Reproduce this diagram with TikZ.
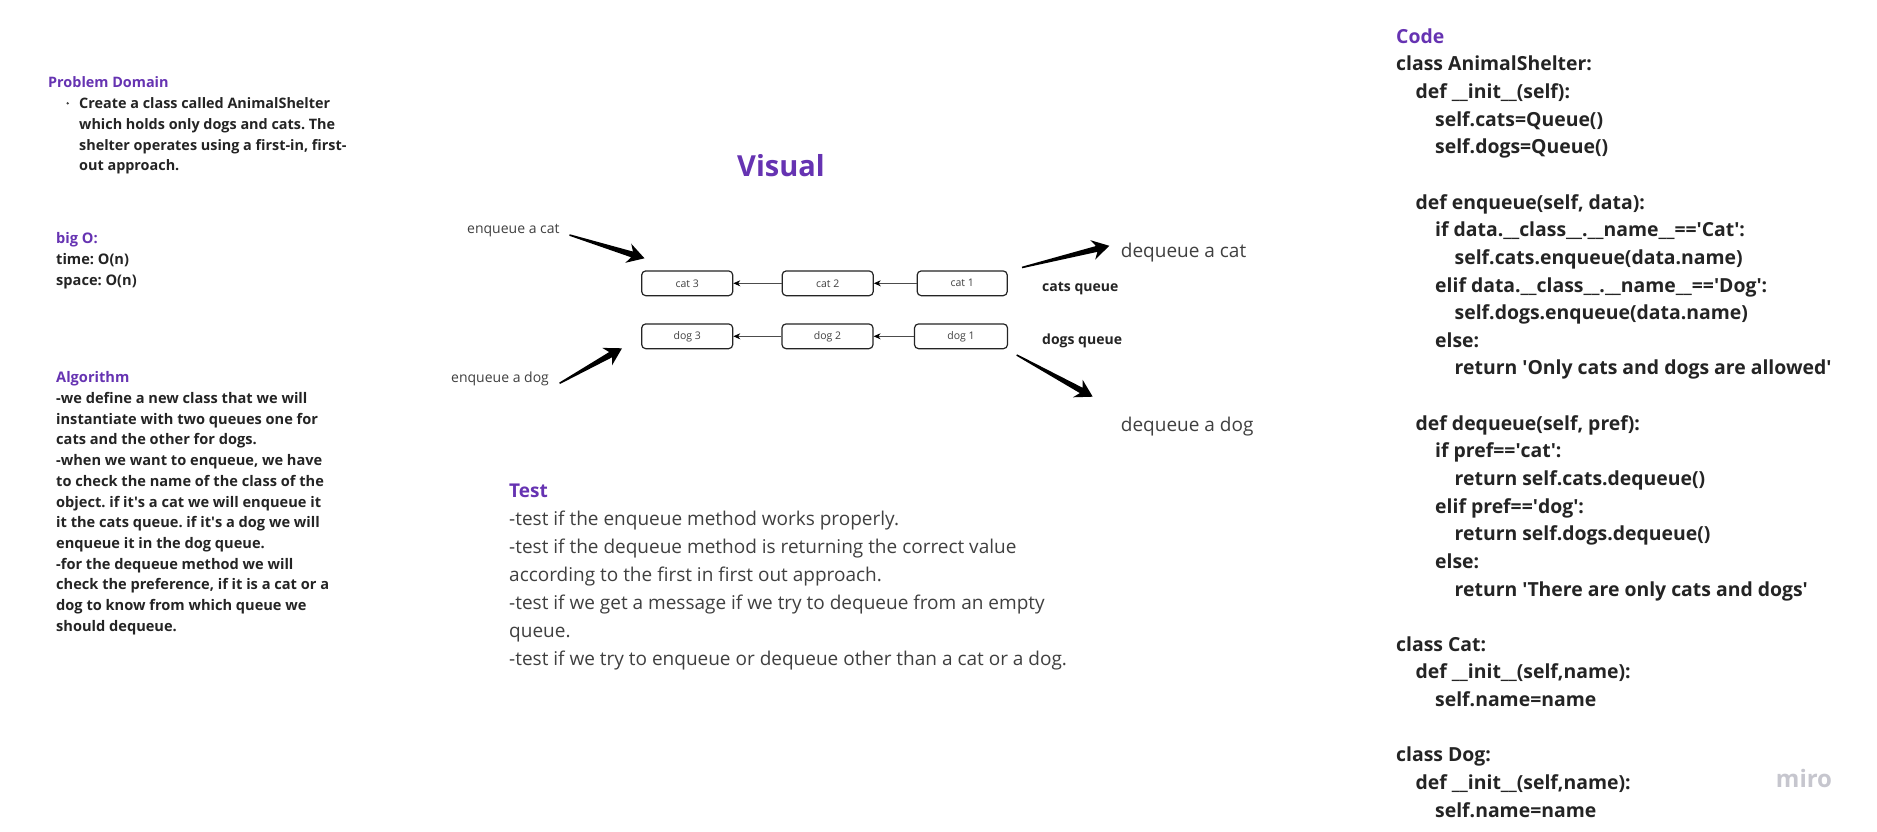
\documentclass[tikz,border=0pt]{standalone}
\usepackage{fontspec}
\setmainfont{Open Sans}
\usetikzlibrary{calc,arrows.meta}
\definecolor{hdpurple}{RGB}{102,51,178}
\definecolor{txtdark}{RGB}{36,36,36}
\definecolor{txtlight}{RGB}{64,64,64}
\definecolor{miroGray}{RGB}{198,198,206}
\newcommand{\sq}{\textquotesingle}
\newcommand{\ia}{\hspace*{19.5pt}}
\newcommand{\ib}{\hspace*{39pt}}
\newcommand{\ic}{\hspace*{58.5pt}}
\newcommand{\fatarrow}[2]{%
  \path ($(#2)!13pt!(#1)$) coordinate (fa-h) ($(#2)!17pt!(#1)$) coordinate (fa-b);
  \fill[black] ($(#1)!0.8pt!90:(#2)$) -- ($(fa-h)!3pt!-90:(#1)$) -- ($(fa-b)!10pt!-90:(#1)$) -- (#2)
    -- ($(fa-b)!10pt!90:(#1)$) -- ($(fa-h)!3pt!90:(#1)$) -- ($(#1)!0.8pt!-90:(#2)$) -- cycle;}
\frenchspacing
\begin{document}
\frenchspacing
\begin{tikzpicture}[x=1pt,y=-1pt,
  leftblock/.style={anchor=north west, inner sep=0pt, align=left, text=txtdark,
    font=\fontsize{14.6}{20.7}\selectfont\bfseries},
  codeblock/.style={anchor=north west, inner sep=0pt, align=left, text=txtdark,
    font=\fontsize{19.4}{27.64}\selectfont\bfseries},
  testblock/.style={anchor=north west, inner sep=0pt, align=left, text=txtlight,
    font=\fontsize{19}{28.1}\selectfont},
  lbl/.style={anchor=base west, inner sep=0pt, text=txtlight},
  qlbl/.style={anchor=base west, inner sep=0pt, text=txtdark, font=\fontsize{14}{17}\selectfont\bfseries},
  qbox/.style={draw=txtdark, line width=1.2pt, rounded corners=4pt, minimum width=91pt,
    minimum height=24.7pt, inner sep=0pt, text=txtlight, font=\fontsize{10.5}{12}\selectfont},
  qarrow/.style={draw=black!70, line width=0.8pt, -{Stealth[length=7pt,width=6pt,color=black]}}
]
\useasboundingbox (0,0) rectangle (1877,832);
\fill[white] (0,0) rectangle (1877,832);

% ---------- left column ----------
\node[anchor=base west, inner sep=0pt, text=hdpurple, font=\fontsize{14.4}{20.7}\selectfont\bfseries] (pd) at (48,88) {Problem Domain};
\fill[txtlight] (67.7,103.3) circle (1.3pt);
\node[leftblock, font=\fontsize{14.4}{20.7}\selectfont\bfseries] (pdtext) at (79,97.6) {Create a class called AnimalShelter\\which holds only dogs and cats. The\\shelter operates using a first-in, first-\\out approach.};
\node[leftblock] (bigo) at (56,232.6) {{\color{hdpurple}big O:}\\time: O(n)\\space: O(n)};
\node[leftblock] (algo) at (56,371.6) {{\color{hdpurple}Algorithm}\\-we define a new class that we will\\instantiate with two queues one for\\cats and the other for dogs.\\-when we want to enqueue, we have\\to check the name of the class of the\\object. if it\sq s a cat we will enqueue it\\it the cats queue. if it\sq s a dog we will\\enqueue it in the dog queue.\\-for the dequeue method we will\\check the preference, if it is a cat or a\\dog to know from which queue we\\should dequeue.};

% ---------- visual ----------
\node[inner sep=0pt, text=hdpurple, font=\fontsize{29}{34}\selectfont\bfseries] (visual) at (781,166) {Visual};

\node[qbox] (cat3) at (687.2,283.3) {cat 3};
\node[qbox] (cat2) at (827.7,283.3) {cat 2};
\node[qbox, minimum width=90pt] (cat1) at (962.2,283.3) {cat 1};
\node[qbox] (dog3) at (687.2,336.3) {dog 3};
\node[qbox] (dog2) at (827.5,336.3) {dog 2};
\node[qbox, minimum width=93pt] (dog1) at (961,336.3) {dog 1};
\draw[qarrow] (cat2.west) -- (cat3.east);
\draw[qarrow] (cat1.west) -- (cat2.east);
\draw[qarrow] (dog2.west) -- (dog3.east);
\draw[qarrow] (dog1.west) -- (dog2.east);

\node[qlbl] (catsq) at (1042,291) {cats queue};
\node[qlbl] (dogsq) at (1042,344.8) {dogs queue};

\node[lbl, font=\fontsize{14}{17}\selectfont] (enqcat) at (467,233.5) {enqueue a cat};
\node[lbl, font=\fontsize{14}{17}\selectfont] (enqdog) at (451,382.5) {enqueue a dog};
\node[lbl, font=\fontsize{19}{23}\selectfont] (deqcat) at (1120.7,257.8) {dequeue a cat};
\node[lbl, font=\fontsize{19}{23}\selectfont] (deqdog) at (1120.7,431) {dequeue a dog};

\coordinate (ecT) at (569.5,235);   \coordinate (ecH) at (644.5,258.3);
\coordinate (edT) at (559.6,383.3); \coordinate (edH) at (622,348.3);
\coordinate (dcT) at (1022,267.5);  \coordinate (dcH) at (1109.3,245.8);
\coordinate (ddT) at (1016.7,355);  \coordinate (ddH) at (1092.7,396.7);
\fatarrow{ecT}{ecH}
\fatarrow{edT}{edH}
\fatarrow{dcT}{dcH}
\fatarrow{ddT}{ddH}

% ---------- test ----------
\node[testblock] (test) at (509,483.3) {{\color{hdpurple}\bfseries Test}\\-test if the enqueue method works properly.\\-test if the dequeue method is returning the correct value\\according to the first in first out approach.\\-test if we get a message if we try to dequeue from an empty\\queue.\\-test if we try to enqueue or dequeue other than a cat or a dog.};

% ---------- code ----------
\node[codeblock] (code) at (1396,28.3) {{\color{hdpurple}Code}\\
class AnimalShelter:\\
\ia def \_\_init\_\_(self):\\
\ib self.cats=Queue()\\
\ib self.dogs=Queue()\\
\mbox{}\\
\ia def enqueue(self, data):\\
\ib if data.\_\_class\_\_.\_\_name\_\_==\sq Cat\sq:\\
\ic self.cats.enqueue(data.name)\\
\ib elif data.\_\_class\_\_.\_\_name\_\_==\sq Dog\sq:\\
\ic self.dogs.enqueue(data.name)\\
\ib else:\\
\ic return \sq Only cats and dogs are allowed\sq\\
\mbox{}\\
\ia def dequeue(self, pref):\\
\ib if pref==\sq cat\sq:\\
\ic return self.cats.dequeue()\\
\ib elif pref==\sq dog\sq:\\
\ic return self.dogs.dequeue()\\
\ib else:\\
\ic return \sq There are only cats and dogs\sq\\
\mbox{}\\
class Cat:\\
\ia def \_\_init\_\_(self,name):\\
\ib self.name=name\\
\mbox{}\\
class Dog:\\
\ia def \_\_init\_\_(self,name):\\
\ib self.name=name};

\node[inner sep=0pt, text=miroGray, font=\fontsize{24}{28}\selectfont\bfseries] (miro) at (1804,778) {miro};
\end{tikzpicture}
\end{document}
